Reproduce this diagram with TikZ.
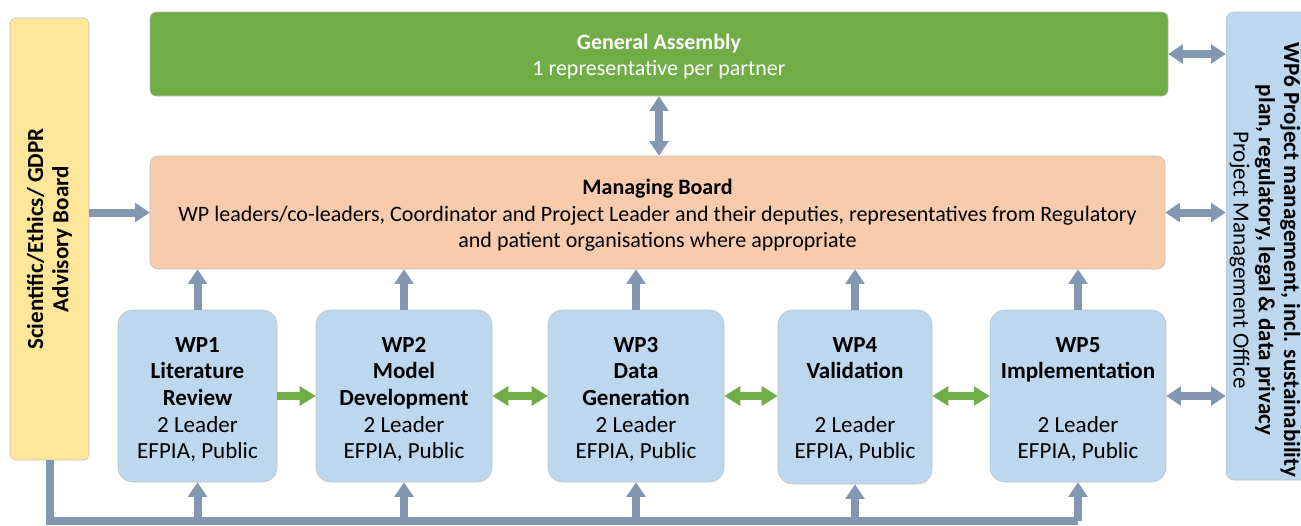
\documentclass[tikz,border=0pt]{standalone}
\usepackage{fontspec}
\setmainfont{Carlito}
\usetikzlibrary{arrows.meta}
\definecolor{gagreen}{HTML}{70AD47}
\definecolor{mborange}{HTML}{F8CBAD}
\definecolor{wpblue}{HTML}{BDD7EE}
\definecolor{advyellow}{HTML}{FFE699}
\definecolor{arrgray}{HTML}{8497B0}
\definecolor{boxline}{HTML}{BFBFBF}
\begin{document}
\begin{tikzpicture}[x=0.75pt,y=-0.75pt,
  box/.style={rectangle, draw=boxline, line width=0.4pt, align=center, inner sep=0pt},
  wpbox/.style={box, fill=wpblue, rounded corners=11pt, minimum height=129pt},
  txt/.style={align=center, inner sep=0pt},
  wptxt/.style={txt, font=\fontsize{17.3}{20}\selectfont},
  grayarrow/.style={draw=arrgray, line width=6pt, -{Triangle[width=14pt,length=11pt]}},
  graydarrow/.style={draw=arrgray, line width=6pt, {Triangle[width=14pt,length=11pt]}-{Triangle[width=14pt,length=11pt]}},
  grayline/.style={draw=arrgray, line width=6pt, line join=miter},
  greenarrow/.style={draw=gagreen, line width=6pt, -{Triangle[width=14pt,length=12pt]}},
  greendarrow/.style={draw=gagreen, line width=6pt, {Triangle[width=14pt,length=12pt]}-{Triangle[width=14pt,length=12pt]}}
]
\useasboundingbox (0,0) rectangle (1301,525);
% boxes
\node[box, fill=advyellow, rounded corners=4pt, minimum width=59.25pt, minimum height=331.5pt] (adv) at (49.5,239) {};
\node[box, fill=gagreen, rounded corners=4.5pt, minimum width=763.5pt, minimum height=63pt] (ga) at (659,54) {};
\node[box, fill=mborange, rounded corners=6pt, minimum width=761.25pt, minimum height=84.75pt] (mb) at (657.5,212.5) {};
\node[box, fill=wpblue, rounded corners=6pt, minimum width=67.5pt, minimum height=351pt] (wp6) at (1271,246) {};
\node[wpbox, minimum width=119.25pt] (wp1) at (197.5,396) {};
\node[wpbox, minimum width=132pt] (wp2) at (404,396) {};
\node[wpbox, minimum width=132pt] (wp3) at (636,396) {};
\node[wpbox, minimum width=115.5pt, minimum height=130.5pt] (wp4) at (855,397) {};
\node[wpbox, minimum width=132pt] (wp5) at (1078,396) {};
% texts
\coordinate (wptc) at (0,399.5);
\node[wptxt] (wp1t) at (wptc -| wp1.center) {\textbf{WP1}\\\textbf{Literature}\\\textbf{Review}\\2 Leader\\EFPIA, Public};
\node[wptxt] (wp2t) at (wptc -| wp2.center) {\textbf{WP2}\\\textbf{Model}\\\textbf{Development}\\2 Leader\\EFPIA, Public};
\node[wptxt] (wp3t) at (wptc -| wp3.center) {\textbf{WP3}\\\textbf{Data}\\\textbf{Generation}\\2 Leader\\EFPIA, Public};
\node[wptxt] (wp4t) at (wptc -| wp4.center) {\textbf{WP4}\\\textbf{Validation}\\[20pt]2 Leader\\EFPIA, Public};
\node[wptxt] (wp5t) at (wptc -| wp5.center) {\textbf{WP5}\\\textbf{Implementation}\\[20pt]2 Leader\\EFPIA, Public};
\node[txt, yshift=-2pt, text=white, font=\fontsize{16.5}{20}\selectfont] (gatxt) at (ga.center) {\textbf{General Assembly}\\1 representative per partner};
\node[txt, yshift=-2pt, font=\fontsize{16.5}{20}\selectfont] (mbtxt) at (mb.center) {\textbf{Managing Board}\\WP leaders/co-leaders, Coordinator and Project Leader and their deputies, representatives from Regulatory\\and patient organisations where appropriate};
\node[txt, rotate=90, font=\bfseries\fontsize{17.3}{19}\selectfont] (advtxt) at (adv.center) {Scientific/Ethics/ GDPR\\Advisory Board};
\node[txt, rotate=-90, font=\fontsize{17.3}{19}\selectfont] (wp6txt) at (1265,260) {\textbf{WP6 Project management, incl. sustainability}\\\textbf{plan, regulatory, legal \& data privacy}\\Project Management Office};
% connectors
\draw[graydarrow] (ga.south) -- (mb.north -| ga.south);
\draw[graydarrow] (ga.east) -- (ga.east -| wp6.west);
\draw[graydarrow] (mb.east) -- (mb.east -| wp6.west);
\draw[graydarrow] (wp5.east) -- (wp5.east -| wp6.west);
\draw[grayarrow] (adv.east |- mb.west) -- (mb.west);
\foreach \w in {wp1,wp2,wp3,wp4,wp5}{
  \draw[grayarrow] (\w.north) -- (\w.north |- mb.south);
}
\coordinate (bl) at (49.5,521);
\draw[grayline] (adv.south) -- (adv.south |- bl) -- (wp5.south |- bl);
\foreach \w in {wp1,wp2,wp3,wp4,wp5}{
  \draw[grayarrow] (\w.south |- bl) -- (\w.south);
}
\draw[greenarrow] (wp1.east) -- (wp2.west);
\draw[greendarrow] (wp2.east) -- (wp3.west);
\draw[greendarrow] (wp3.east) -- (wp4.west |- wp3.east);
\draw[greendarrow] (wp4.east |- wp5.west) -- (wp5.west);
\end{tikzpicture}
\end{document}
